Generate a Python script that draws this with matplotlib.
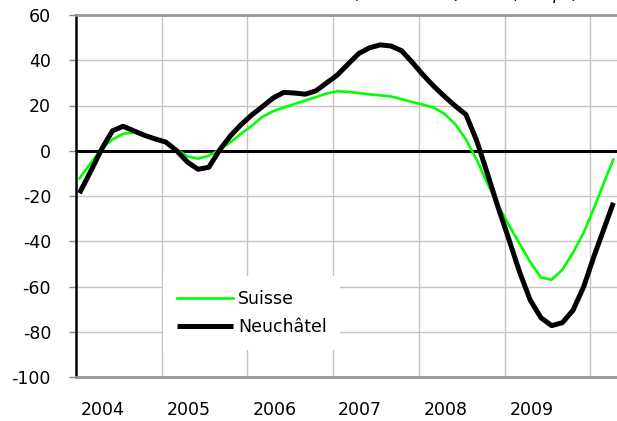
import numpy as np
import matplotlib
matplotlib.use("Agg")
import matplotlib.pyplot as plt

plt.rcParams["axes.unicode_minus"] = False

# sample positions (decimal years) and values
years = np.r_[2004.04, np.arange(2004.175, 2010.2, 0.125), 2010.27]

neuchatel = [-18.8, -8.8, 0.8, 8.8, 10.8, 8.8, 6.8, 5.2,
             3.8, 0.0, -5.0, -8.2, -7.3, 0.3, 6.5, 11.5,
             15.8, 19.5, 23.3, 25.8, 25.5, 25.0, 26.5, 30.0,
             33.5, 38.3, 43.0, 45.5, 46.8, 46.3, 44.2, 39.0,
             33.5, 28.5, 24.0, 19.8, 16.0, 4.5, -10.0, -25.0,
             -39.0, -53.5, -66.0, -73.8, -77.3, -76.0, -70.5, -60.0,
             -46.0, -33.0, -23.0]

suisse = [-12.3, -5.3, 1.0, 5.0, 7.5, 8.0, 6.9, 5.3,
          3.4, 0.6, -2.5, -3.5, -2.2, 0.5, 3.7, 7.5,
          11.0, 15.0, 17.5, 19.1, 20.7, 22.2, 23.7, 25.3,
          26.3, 26.0, 25.5, 24.9, 24.5, 24.0, 22.8, 21.5,
          20.4, 19.0, 16.3, 11.8, 5.0, -3.9, -14.4, -24.0,
          -32.8, -41.0, -49.2, -56.0, -57.0, -52.6, -45.0, -36.1,
          -24.8, -12.7, -3.9]

year_labels = ["2004", "2005", "2006", "2007", "2008", "2009"]
title = "Marche des affaires (solde en %) lissé (temps)"

fig = plt.figure(figsize=(6.17, 4.21), dpi=100)
ax = fig.add_axes([76 / 617, 1 - 377 / 421, 541 / 617, 362 / 421])

ax.plot(years, suisse, color="#00ff00", lw=1.9, label="Suisse",
        solid_joinstyle="round", zorder=3)
ax.plot(years, neuchatel, color="black", lw=3.6, label="Neuchâtel",
        solid_joinstyle="round", solid_capstyle="butt", zorder=4)
ax.axhline(0, color="black", lw=2.2, zorder=2)

ax.set_xlim(2004, 2004 + 541 / 85.7)
ax.set_ylim(-100, 60)
ax.set_yticks(range(-100, 61, 20))

# year boundaries as gridlines, labels placed inside each year
ax.set_xticks(range(2005, 2011), minor=True)
ax.set_xticks([int(y) + 0.315 for y in year_labels])
ax.set_xticklabels(year_labels)
ax.grid(which="minor", axis="x", color="#c4c4c4", lw=1.0)
ax.grid(which="major", axis="y", color="#c4c4c4", lw=1.0)
ax.set_axisbelow(True)

ax.tick_params(axis="x", which="both", length=0, pad=17, labelsize=12.5)
ax.tick_params(axis="y", length=5, width=1, color="#888888", pad=13, labelsize=12.5)

for s in ["top", "bottom"]:
    ax.spines[s].set_color("#999999")
    ax.spines[s].set_linewidth(2)
ax.spines["right"].set_visible(False)
ax.spines["left"].set_color("black")
ax.spines["left"].set_linewidth(1.8)

leg = ax.legend(loc="upper left", bbox_to_anchor=(0.161, 0.279), borderaxespad=0,
                fontsize=12.5, frameon=True, fancybox=False, handlelength=3.2,
                handletextpad=0.3, labelspacing=0.6, borderpad=0.8)
leg.get_frame().set_facecolor("white")
leg.get_frame().set_edgecolor("none")
leg.get_frame().set_alpha(1)

# title sits mostly above the visible area, only its descenders show
fig.text(580 / 617, 1 + 1 / 421, title, ha="right", va="baseline",
         style="italic", fontsize=12.5)

fig.savefig("out.png", dpi=100)
